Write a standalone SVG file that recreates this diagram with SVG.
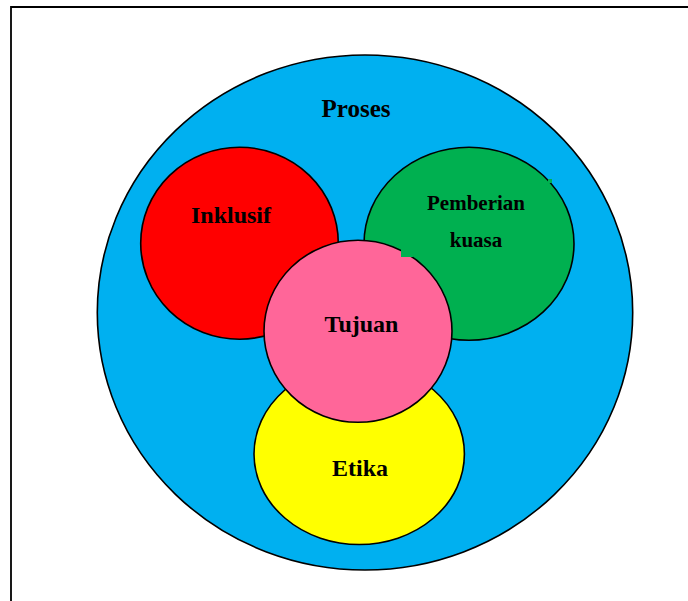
<svg xmlns="http://www.w3.org/2000/svg" width="688" height="601" viewBox="0 0 688 601">
  <style>
    .ring { stroke: #000; stroke-width: 1.6; }
    .lbl { font-family: "Liberation Serif", "Times New Roman", serif; font-weight: bold; fill: #000; text-anchor: middle; }
    .big { font-size: 24px; }
    .small { font-size: 21px; }
  </style>

  <rect x="0" y="0" width="688" height="601" fill="#fff"/>
  <!-- page frame, open at the right and bottom -->
  <path d="M688,7 H11 V601" fill="none" stroke="#000" stroke-width="1.8"/>

  <g id="proses">
    <ellipse class="ring" cx="365" cy="312.5" rx="267.7" ry="257.5" fill="#00B0F0"/>
    <text class="lbl" x="356" y="117" style="font-size:25px">Proses</text>
  </g>

  <g id="etika">
    <ellipse class="ring" cx="359.2" cy="454" rx="105.2" ry="90.5" fill="#FFFF00"/>
    <text class="lbl big" x="360" y="476">Etika</text>
  </g>

  <g id="inklusif">
    <ellipse class="ring" cx="239.5" cy="243.2" rx="98.8" ry="96" fill="#FF0000"/>
    <text class="lbl big" x="231" y="223">Inklusif</text>
  </g>

  <g id="pemberian-kuasa">
    <ellipse class="ring" cx="469" cy="243.7" rx="105" ry="96.5" fill="#00B050"/>
    <text class="lbl small" x="476" y="210">Pemberian</text>
    <text class="lbl small" x="476" y="247">kuasa</text>
  </g>

  <g id="tujuan">
    <ellipse class="ring" cx="358" cy="331.3" rx="94" ry="91" fill="#FF6699"/>
    <text class="lbl big" x="361.5" y="332">Tujuan</text>
  </g>

  <!-- small green patches left over from the text box of the green circle -->
  <g id="green-patches" fill="#00B050">
    <rect x="401" y="248.5" width="12" height="8.5"/>
    <rect x="548" y="179" width="4" height="4"/>
  </g>
</svg>
